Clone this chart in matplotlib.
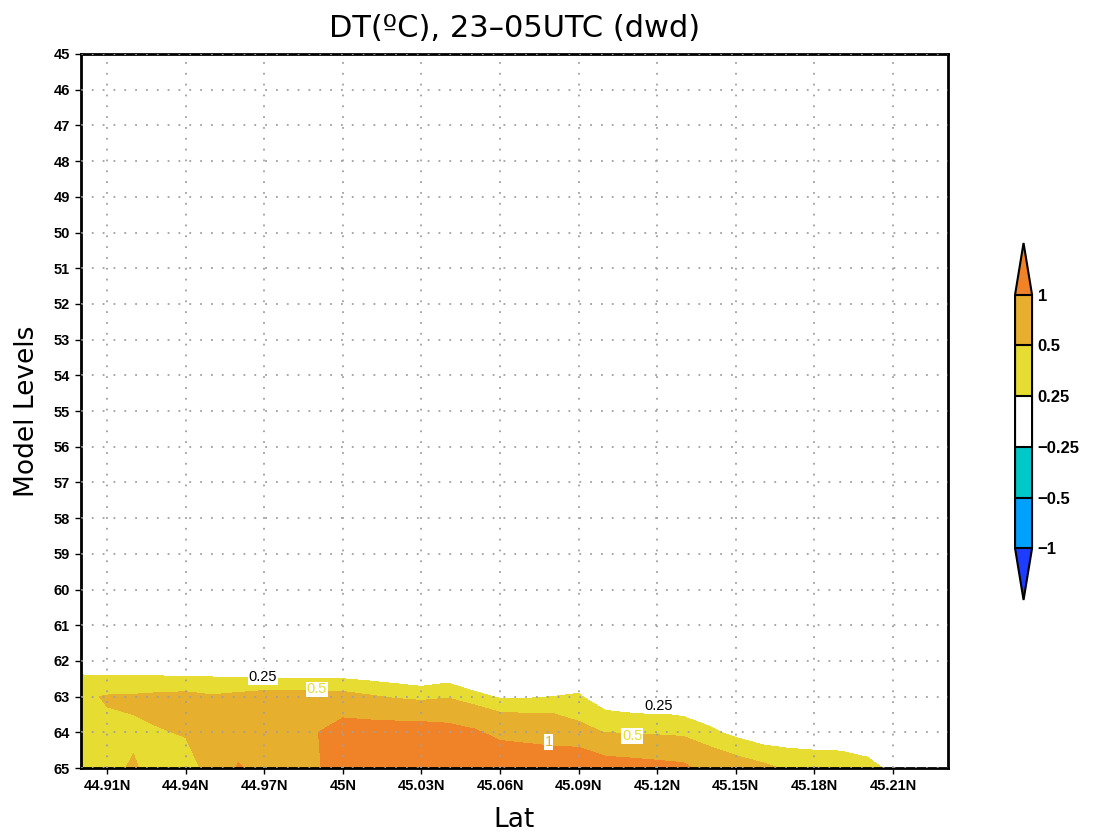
import numpy as np
import matplotlib.pyplot as plt
from matplotlib.colors import ListedColormap, BoundaryNorm

# latitude columns (deg N) and model levels of the section
lats = [44.90, 44.91, 44.92, 44.93, 44.94, 44.95, 44.96, 44.97, 44.98, 44.99,
        45.00, 45.01, 45.02, 45.03, 45.04, 45.05, 45.06, 45.07, 45.08, 45.09,
        45.10, 45.11, 45.12, 45.13, 45.14, 45.15, 45.16, 45.17, 45.18, 45.19,
        45.20, 45.21, 45.22, 45.23]
levels = [61, 62, 63, 64, 65]

# DT (degC) on each model level
dt_61 = [0.0] * 34
dt_62 = [0.12, 0.07, 0.055, 0.026, -0.01, 0.025, -0.04, -0.09, -0.11, -0.12,
         -0.10, -0.11, -0.12, -0.15, -0.11, -0.20, -0.05, -0.05, 0.0, 0.0,
         0.0, 0.0, 0.0, 0.0, 0.0, 0.0, 0.0, 0.0, 0.0, 0.0,
         0.0, 0.0, 0.0, 0.0]
dt_63 = [0.45, 0.52, 0.53, 0.56, 0.58, 0.525, 0.57, 0.62, 0.625, 0.62,
         0.60, 0.53, 0.46, 0.41, 0.47, 0.33, 0.22, 0.22, 0.25, 0.275,
         0.10, 0.05, 0.08, 0.03, 0.0, 0.0, 0.0, 0.0, 0.0, 0.0,
         0.0, 0.0, 0.0, 0.0]
dt_64 = [0.42, 0.45, 0.47, 0.49, 0.51, 0.60, 0.70, 0.75, 0.85, 0.98,
         1.27, 1.25, 1.25, 1.25, 1.18, 1.07, 0.85, 0.82, 0.78, 0.60,
         0.49, 0.48, 0.45, 0.42, 0.30, 0.18, 0.075, 0.078, 0.05, 0.05,
         0.0, 0.0, 0.0, 0.0]
dt_65 = [0.40, 0.45, 0.52, 0.42, 0.44, 0.55, 1.05, 0.80, 0.90, 0.92,
         1.40, 1.40, 1.40, 1.35, 1.30, 1.30, 1.50, 1.40, 1.35, 1.55,
         1.25, 1.20, 1.15, 1.10, 0.80, 0.67, 0.575, 0.46, 0.45, 0.43,
         0.36, 0.18, 0.0, 0.0]

clevs = [-1, -0.5, -0.25, 0.25, 0.5, 1]
clev_labels = ['\u22121', '\u22120.5', '\u22120.25', '0.25', '0.5', '1']
xticks = [44.91, 44.94, 44.97, 45.00, 45.03, 45.06, 45.09, 45.12, 45.15, 45.18, 45.21]
xtick_labels = ['44.91N', '44.94N', '44.97N', '45N', '45.03N', '45.06N',
                '45.09N', '45.12N', '45.15N', '45.18N', '45.21N']
yticks = list(range(45, 66))

# GrADS default palette
c_under = (30/255, 60/255, 255/255)
fill_cols = [(0, 160/255, 1), (0, 200/255, 200/255), (1, 1, 1),
             (230/255, 220/255, 50/255), (230/255, 175/255, 45/255)]
c_over = (240/255, 130/255, 40/255)

cmap = ListedColormap(fill_cols)
cmap.set_under(c_under)
cmap.set_over(c_over)
norm = BoundaryNorm(clevs, cmap.N)

field = np.array([dt_61, dt_62, dt_63, dt_64, dt_65])

fig = plt.figure(figsize=(10.97, 8.32), dpi=100)
ax = fig.add_axes([0.0738, 0.0769, 0.7904, 0.8582])

cf = ax.contourf(lats, levels, field, levels=clevs, cmap=cmap, norm=norm,
                 extend='both')

ax.set_xlim(44.900, 45.231)
ax.set_ylim(65, 45)
ax.set_xticks(xticks)
ax.set_xticklabels(xtick_labels, fontweight='bold', fontsize=10.5,
                   family='Liberation Sans')
ax.set_yticks(yticks)
ax.set_yticklabels([str(v) for v in yticks], fontweight='bold', fontsize=10.5,
                   family='Liberation Sans')
ax.tick_params(axis='both', direction='out', length=4, width=1, pad=4)
ax.grid(True, color='#a0a0a0', linestyle=(0, (1, 5)), linewidth=1.3)
ax.set_axisbelow(False)
for sp in ax.spines.values():
    sp.set_linewidth(2)

ax.set_xlabel('Lat', fontsize=19, labelpad=10)
ax.set_ylabel('Model Levels', fontsize=19, labelpad=10)
ax.set_title('DT(ºC), 23\u201305UTC (dwd)', fontsize=22, pad=12)

# contour labels
lab_style = dict(ha='center', va='center', fontsize=10.5, family='Liberation Sans')
ax.text(44.9695, 62.45, '0.25', color='black',
        bbox=dict(fc='white', ec='none', pad=0.5), **lab_style)
ax.text(44.990, 62.80, '0.5', color=fill_cols[3],
        bbox=dict(fc='white', ec='none', pad=0.5), **lab_style)
ax.text(45.0785, 64.27, '1', color=fill_cols[4],
        bbox=dict(fc='white', ec='none', pad=0.5), **lab_style)
ax.text(45.1205, 63.26, '0.25', color='black',
        bbox=dict(fc='white', ec='none', pad=0.5), **lab_style)
ax.text(45.1105, 64.10, '0.5', color=fill_cols[3],
        bbox=dict(fc='white', ec='none', pad=0.5), **lab_style)

# colorbar (axes spans the triangles too)
cax = fig.add_axes([0.9253, 1 - 600/832, 0.0155, 357/832])
cb = fig.colorbar(cf, cax=cax, extend='both', extendfrac=0.204,
                  drawedges=True, ticks=clevs, spacing='uniform')
cb.outline.set_linewidth(1.5)
cb.dividers.set_linewidth(1.5)
cb.ax.tick_params(length=0, pad=4)
cb.ax.set_yticklabels(clev_labels, fontweight='bold', fontsize=12,
                      family='Liberation Sans')

fig.savefig('out.png', dpi=100)
